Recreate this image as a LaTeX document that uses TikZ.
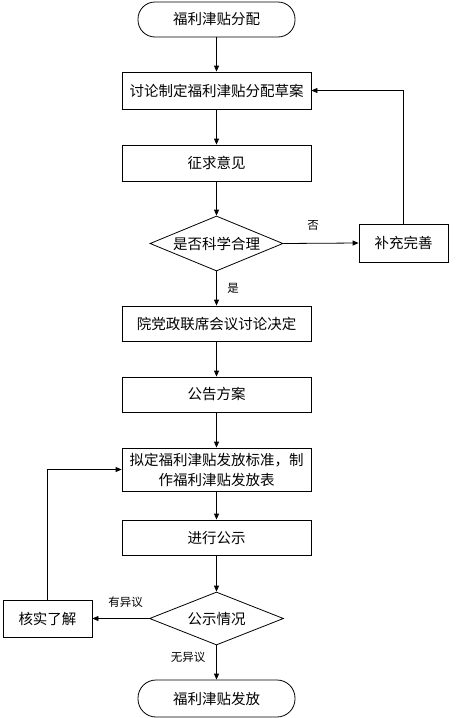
\documentclass[tikz,border=0pt]{standalone}
\usepackage{fontspec}
\setmainfont{Noto Sans CJK SC}
\usetikzlibrary{shapes.geometric,arrows.meta}
\begin{document}
\begin{tikzpicture}[x=1pt,y=-1pt,
  every node/.style={font=\fontsize{14.5}{20}\selectfont},
  term/.style={draw,line width=0.8pt,rounded corners=17pt,minimum width=157pt,minimum height=35pt,inner sep=0pt},
  stepbox/.style={draw,line width=0.8pt,minimum width=189pt,minimum height=35pt,inner sep=0pt,align=center},
  sidebox/.style={draw,line width=0.8pt,minimum width=89pt,minimum height=37pt,inner sep=0pt},
  decide/.style={draw,line width=0.8pt,diamond,aspect=2.4,inner sep=0pt,minimum width=133pt,minimum height=55pt},
  lbl/.style={font=\fontsize{11.5}{13}\selectfont,inner sep=0pt},
  conn/.style={line width=0.8pt,-{Triangle[length=6pt,width=5pt]}}
]
\useasboundingbox (0,0) rectangle (466,718);
\node[term] (start) at (216.5,19.5) {福利津贴分配};
\node[stepbox,minimum height=37pt] (b1) at (216.5,90.5) {讨论制定福利津贴分配草案};
\node[stepbox,minimum height=36pt] (b2) at (216.5,163) {征求意见};
\node[decide] (d1) at (216.5,243.5) {是否科学合理};
\node[sidebox,minimum height=38pt] (bc) at (403.5,243) {补充完善};
\node[stepbox] (b3) at (216.5,323.5) {院党政联席会议讨论决定};
\node[stepbox] (b4) at (216.5,394.5) {公告方案};
\node[stepbox,minimum height=43pt,text width=187pt] (b5) at (216.5,469.5) {拟定福利津贴发放标准，制\\作福利津贴发放表};
\node[stepbox] (b6) at (216.5,537.5) {进行公示};
\node[decide,minimum width=134pt,minimum height=53pt] (d2) at (216.5,618.5) {公示情况};
\node[sidebox] (hs) at (47.5,618.5) {核实了解};
\node[term,minimum height=37pt,rounded corners=18pt] (end) at (216.5,698.5) {福利津贴发放};
\node[lbl] (lno) at (313,225.5) {否};
\node[lbl] (lyes) at (233,288) {是};
\node[lbl] (lobj) at (125.5,602) {有异议};
\node[lbl] (lnoobj) at (188,657) {无异议};
\draw[conn] (start) -- (b1);
\draw[conn] (b1) -- (b2);
\draw[conn] (b2) -- (d1);
\draw[conn] (d1.east) -- (bc.west);
\draw[conn] (bc.north) |- (b1.east);
\draw[conn] (d1.south) -- (b3);
\draw[conn] (b3) -- (b4);
\draw[conn] (b4) -- (b5);
\draw[conn] (b5) -- (b6);
\draw[conn] (b6) -- (d2.north);
\draw[conn] (d2.west) -- (hs.east);
\draw[conn] (hs.north) |- (b5.west);
\draw[conn] (d2.south) -- (end);
\end{tikzpicture}
\end{document}
